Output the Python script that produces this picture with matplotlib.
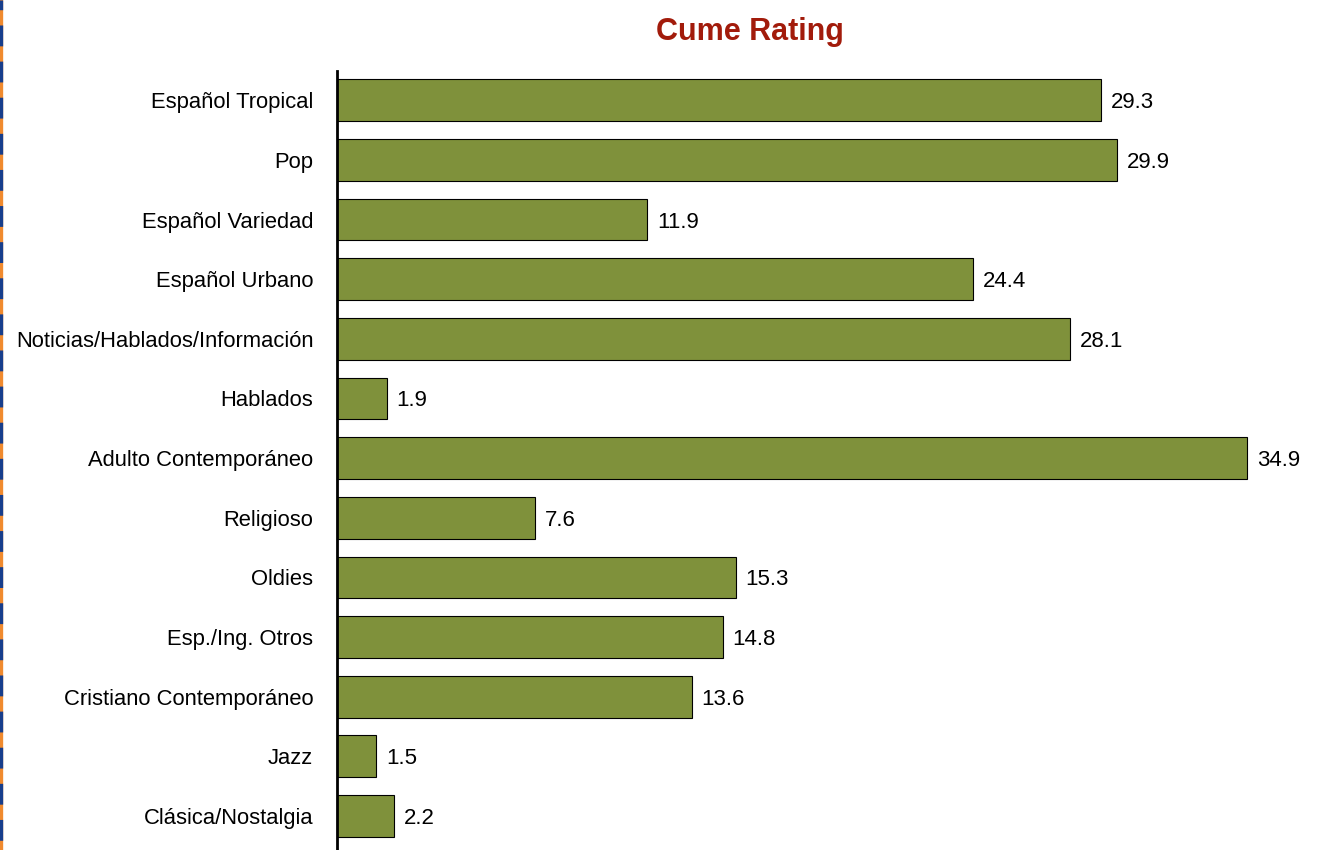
import matplotlib
matplotlib.use('Agg')
import matplotlib.pyplot as plt
from matplotlib.lines import Line2D

categories = ['Español Tropical', 'Pop', 'Español Variedad', 'Español Urbano',
              'Noticias/Hablados/Información', 'Hablados', 'Adulto Contemporáneo',
              'Religioso', 'Oldies', 'Esp./Ing. Otros', 'Cristiano Contemporáneo',
              'Jazz', 'Clásica/Nostalgia']
values = [29.3, 29.9, 11.9, 24.4, 28.1, 1.9, 34.9, 7.6, 15.3, 14.8, 13.6, 1.5, 2.2]

plt.rcParams['font.family'] = ['Liberation Sans Narrow', 'Liberation Sans', 'DejaVu Sans']
plt.rcParams['lines.scale_dashes'] = False

fig = plt.figure(figsize=(13.17, 8.5), dpi=100)
ax = fig.add_axes([337 / 1317, 0, (1315 - 337) / 1317, (850 - 71) / 850])

pos = list(range(len(categories)))
ax.barh(pos, values, height=0.70, color='#7F913B', edgecolor='black', linewidth=0.8)
for p, v in zip(pos, values):
    ax.annotate(f'{v:.1f}', (v, p), xytext=(7, 0), textcoords='offset points',
                va='center_baseline', ha='left', fontsize=16)

ax.set_yticks(pos)
ax.set_yticklabels(categories, fontsize=15.8)
ax.set_ylim(len(categories) - 1 + 0.57, -0.49)
ax.set_xlim(0, 37.5)
ax.set_xticks([])
ax.tick_params(axis='y', length=0, pad=17)
for s in ['top', 'right', 'bottom']:
    ax.spines[s].set_visible(False)
ax.spines['left'].set_linewidth(2)

fig.text(750 / 1317, 1 - 32 / 850, 'Cume Rating', ha='center', va='center',
         fontsize=22, fontweight='bold', color='#A21B0B')

# dashed border on the left edge
fig.add_artist(Line2D([0.0011, 0.0011], [0, 1], transform=fig.transFigure,
                      color='#F08A2E', linewidth=2.4))
fig.add_artist(Line2D([0.0011, 0.0011], [1, 0], transform=fig.transFigure,
                      color='#173E8C', linewidth=2.4, linestyle=(8, (15, 11))))

fig.savefig('out.png', dpi=100)
